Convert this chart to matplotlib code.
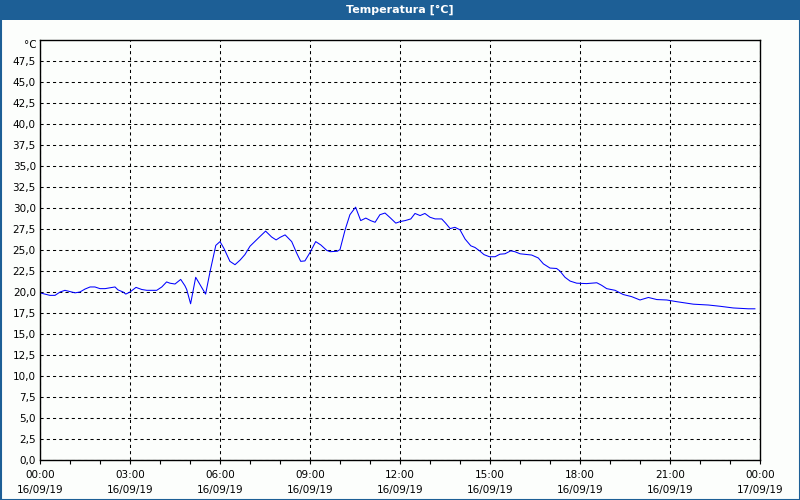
import matplotlib
matplotlib.use("Agg")
import matplotlib.pyplot as plt
from matplotlib.patches import Rectangle
import numpy as np

# hours since 16/09/19 00:00
hours = [0.00, 0.33, 0.50, 0.67, 0.83, 1.00, 1.17, 1.33, 1.50, 1.67, 1.83, 2.00, 2.17,
         2.33, 2.50, 2.60, 2.77, 2.86, 3.00, 3.20, 3.39, 3.56, 3.72, 3.89, 4.06, 4.22,
         4.33, 4.50, 4.69, 4.83, 4.89, 5.02, 5.19, 5.33, 5.52, 5.67, 5.86, 6.00, 6.13,
         6.33, 6.50, 6.67, 6.83, 7.00, 7.33, 7.52, 7.72, 7.87, 8.00, 8.17, 8.39, 8.56,
         8.69, 8.83, 9.00, 9.19, 9.36, 9.56, 9.67, 9.91, 10.00, 10.17, 10.33, 10.52,
         10.69, 10.86, 11.02, 11.17, 11.33, 11.50, 11.67, 11.86, 12.02, 12.17, 12.36,
         12.50, 12.67, 12.83, 13.00, 13.17, 13.39, 13.52, 13.67, 13.83, 14.00, 14.17,
         14.36, 14.50, 14.67, 14.80, 14.98, 15.17, 15.33, 15.50, 15.69, 15.83, 16.00,
         16.39, 16.61, 16.78, 17.00, 17.22, 17.33, 17.50, 17.67, 17.89, 18.22, 18.56,
         18.72, 18.89, 19.17, 19.44, 19.72, 20.00, 20.28, 20.56, 20.89, 21.22, 21.78,
         22.28, 22.67, 23.11, 23.61, 23.83]
temps = [19.9, 19.6, 19.6, 20.0, 20.2, 20.05, 19.9, 20.0, 20.35, 20.6, 20.6, 20.4, 20.4,
         20.5, 20.6, 20.25, 20.0, 19.75, 20.0, 20.55, 20.3, 20.2, 20.2, 20.2, 20.6, 21.2,
         21.05, 20.95, 21.5, 20.75, 20.3, 18.6, 21.75, 20.9, 19.75, 22.45, 25.55, 26.0, 25.2,
         23.65, 23.25, 23.8, 24.45, 25.45, 26.6, 27.25, 26.55, 26.2, 26.5, 26.8, 26.0, 24.6,
         23.65, 23.7, 24.7, 26.0, 25.6, 24.95, 24.8, 24.85, 25.05, 27.4, 29.2, 30.1,
         28.5, 28.8, 28.5, 28.3, 29.2, 29.4, 28.85, 28.2, 28.4, 28.5, 28.7,
         29.35, 29.1, 29.35, 28.9, 28.7, 28.7, 28.2, 27.55, 27.7, 27.4, 26.3,
         25.5, 25.3, 24.85, 24.45, 24.2, 24.2, 24.5, 24.55, 24.9, 24.8, 24.55,
         24.4, 24.05, 23.35, 22.85, 22.8, 22.5, 21.75, 21.3, 21.05, 21.0, 21.1,
         20.8, 20.4, 20.2, 19.7, 19.45, 19.05, 19.35, 19.1, 19.05, 18.85, 18.55,
         18.45, 18.3, 18.1, 18.0, 18.0]

x_ticks = [0, 3, 6, 9, 12, 15, 18, 21, 24]
x_labels = ["00:00\n16/09/19", "03:00\n16/09/19", "06:00\n16/09/19", "09:00\n16/09/19",
            "12:00\n16/09/19", "15:00\n16/09/19", "18:00\n16/09/19", "21:00\n16/09/19",
            "00:00\n17/09/19"]
y_ticks = list(np.arange(0, 50, 2.5))
title = "Temperatura [°C]"
unit = "°C"

bg = "#FCFEFC"
bar_blue = "#1D5F96"

fig = plt.figure(figsize=(8, 5), dpi=100, facecolor=bg)

# title bar and outer frame
fig.patches.append(Rectangle((0, 1 - 20 / 500), 1, 20 / 500, transform=fig.transFigure,
                             facecolor=bar_blue, edgecolor="none", zorder=0))
fig.patches.append(Rectangle((0.5 / 800, 0.5 / 500), 1 - 1 / 800, 1 - 1 / 500,
                             transform=fig.transFigure, facecolor="none",
                             edgecolor=bar_blue, linewidth=1.5, zorder=1))
fig.text(0.5, 1 - 10 / 500, title, color="white", fontsize=8, fontweight="bold",
         ha="center", va="center")

ax = fig.add_axes([40 / 800, 40 / 500, 720 / 800, 420 / 500])
ax.set_facecolor(bg)
ax.plot(hours, temps, color="#0000FF", linewidth=0.75)

ax.set_xlim(0, 24)
ax.set_ylim(0, 50)
ax.set_xticks(x_ticks)
ax.set_xticklabels(x_labels, fontsize=7.5)
ax.set_xticks(np.arange(0, 25, 1), minor=True)
ax.set_yticks(y_ticks)
ax.set_yticklabels([f"{v:.1f}".replace(".", ",") for v in y_ticks], fontsize=7.5)
for lab in ax.get_xticklabels():
    lab.set_linespacing(1.6)

ax.tick_params(axis="x", which="both", length=3, width=0.8, direction="out", pad=4)
ax.tick_params(axis="y", which="both", length=0, pad=3)

ax.grid(True, which="major", color="black", linestyle=(0, (3, 3)), linewidth=0.75)
for s in ax.spines.values():
    s.set_linewidth(1)
    s.set_color("black")

ax.text(-0.004, 49.35, unit, transform=ax.get_yaxis_transform(), ha="right", va="center",
        fontsize=7.5)

fig.savefig("out.png", dpi=100, facecolor=bg)
